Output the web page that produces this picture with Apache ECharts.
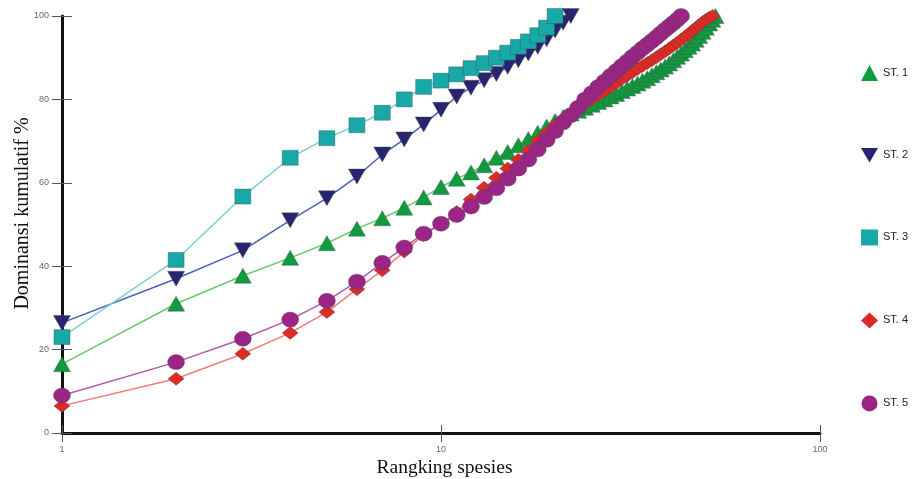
<!DOCTYPE html>
<html>
<head>
<meta charset="utf-8">
<script src="https://cdn.jsdelivr.net/npm/echarts@6/dist/echarts.min.js"></script>
<style>html,body{margin:0;padding:0;background:#fff}#c{width:912px;height:479px}</style>
</head>
<body>
<div id="c"></div>
<script>
const seriesNames = ['ST. 1', 'ST. 2', 'ST. 3', 'ST. 4', 'ST. 5'];
const xTickLabels = ['1', '10', '100'];
const yTickLabels = ['0', '20', '40', '60', '80', '100'];

// cumulative dominance (%) by species rank (rank = index + 1)
const st1 = [16.5, 31, 37.7, 42, 45.5, 49, 51.5, 54, 56.5, 59,
  61, 62.5, 64.2, 66, 67.4, 69, 70.5, 72, 73.5, 74.8,
  75.8, 76.6, 77.3, 78, 78.7, 79.4, 80, 80.7, 81.3, 82,
  82.6, 83.2, 83.8, 84.5, 85.1, 85.8, 86.5, 87.2, 87.9, 88.6,
  89.4, 90.2, 91, 91.8, 92.6, 93.4, 94.3, 95.2, 96.2, 97.2,
  98.2, 99.1, 100];
const st2 = [26.4, 37, 43.8, 51, 56.3, 61.5, 66.8, 70.4, 74, 77.5,
  80.7, 82.8, 84.6, 86.1, 87.8, 89.4, 91, 92.6, 94.4, 96.5,
  98.4, 100];
const st3 = [23, 41.5, 56.7, 66, 70.7, 73.8, 76.8, 80, 83, 84.5,
  86, 87.5, 88.7, 90, 91.2, 92.6, 93.9, 95.4, 97.2, 100];
const st4 = [6.5, 13, 19, 24, 29, 34.5, 39, 43.5, 47.5, 50,
  53, 56, 58.8, 61.2, 63.4, 65.5, 67.7, 70, 72, 73.8,
  75.3, 76.6, 77.8, 79, 80, 81, 82, 83, 84, 84.9,
  85.7, 86.5, 87.3, 88, 88.7, 89.4, 90.1, 90.8, 91.5, 92.2,
  92.9, 93.6, 94.3, 95, 95.7, 96.4, 97.1, 97.8, 98.5, 99.1,
  99.6, 100];
const st5 = [9, 17, 22.6, 27.2, 31.7, 36.3, 40.8, 44.5, 47.8, 50.2,
  52.3, 54.3, 56.6, 58.7, 61, 63.4, 65.6, 68, 70.3, 72.4,
  74.5, 76.2, 78, 80, 81.5, 83, 84.3, 85.6, 86.8, 88,
  89.1, 90.2, 91.2, 92.2, 93.1, 94, 94.9, 95.8, 96.7, 97.5,
  98.3, 99.1, 100];

const allValues = [st1, st2, st3, st4, st5];
const markerColors = ['#0f9b3e', '#28246f', '#17a8a8', '#dd2a25', '#9a2585'];
const lineColors = ['#6cc86a', '#4563b8', '#7fcfd0', '#f07b78', '#b458b0'];
const symbols = ['triangle', 'triangle', 'rect', 'diamond', 'circle'];
const rotations = [0, 180, 0, 0, 0];
const sizes = [[17, 15], [17, 15], [16, 15], [16, 13], [17, 15]];
const legendIcons = ['triangle', 'path://M0,0L20,0L10,17Z', 'rect', 'diamond', 'circle'];

const chart = echarts.init(document.getElementById('c'));
const grid = {left: 62, right: 92, top: 16, bottom: 46, containLabel: false, outerBoundsMode: 'none'};
const labelStyle = {color: '#666', fontSize: 9, fontFamily: 'Liberation Sans, Arial, sans-serif'};

const series = seriesNames.map((name, i) => ({
  name: name,
  type: 'line',
  xAxisIndex: 0, yAxisIndex: 0,
  data: allValues[i].map((v, k) => [k + 1, v]),
  symbol: symbols[i],
  symbolRotate: rotations[i],
  symbolSize: sizes[i],
  showAllSymbol: true,
  lineStyle: {color: lineColors[i], width: 1.5},
  itemStyle: {color: markerColors[i], borderColor: 'rgba(70,70,70,0.55)', borderWidth: 0.7},
  emphasis: {disabled: true},
  animation: false,
  z: 2 + i
}));

chart.setOption({
  backgroundColor: '#fff',
  animation: false,
  grid: grid,
  legend: {
    orient: 'vertical',
    left: 856,
    top: 60,
    itemWidth: 17,
    itemHeight: 16,
    itemGap: 67,
    textStyle: {color: '#222', fontSize: 11, fontFamily: 'Liberation Sans, Arial, sans-serif'},
    itemStyle: {borderWidth: 0},
    data: seriesNames.map((n, i) => ({name: n, icon: legendIcons[i], itemStyle: {color: markerColors[i]}}))
  },
  xAxis: [{
    type: 'log', logBase: 10, min: 1, max: 100,
    name: 'Rangking spesies', nameLocation: 'middle', nameGap: 25, nameMoveOverlap: false,
    nameTextStyle: {fontFamily: 'Liberation Serif, Times New Roman, serif', fontSize: 19.5, color: '#111', padding: [0, 0, 0, 7]},
    axisLine: {show: true, lineStyle: {color: '#111', width: 3}},
    axisTick: {show: true, inside: false, length: 9, lineStyle: {color: '#555', width: 1}},
    minorTick: {show: false},
    axisLabel: Object.assign({margin: 12, formatter: v => xTickLabels[Math.round(Math.log10(v))]}, labelStyle),
    splitLine: {show: false}
  }, {
    type: 'log', logBase: 10, min: 1, max: 100, position: 'bottom',
    axisLine: {show: false},
    axisTick: {show: true, inside: true, length: 8, lineStyle: {color: '#555', width: 1}},
    axisLabel: {show: false}, splitLine: {show: false}
  }],
  yAxis: [{
    type: 'value', min: 0, max: 100, interval: 20,
    name: 'Dominansi kumulatif %', nameLocation: 'middle', nameGap: 29, nameRotate: 90, nameMoveOverlap: false,
    nameTextStyle: {fontFamily: 'Liberation Serif, Times New Roman, serif', fontSize: 20, color: '#111', padding: [0, 0, 0, 22]},
    axisLine: {show: true, lineStyle: {color: '#111', width: 3}},
    axisTick: {show: true, inside: false, length: 10, lineStyle: {color: '#555', width: 1}},
    axisLabel: Object.assign({margin: 13, formatter: v => yTickLabels[Math.round(v / 20)]}, labelStyle),
    splitLine: {show: false}
  }, {
    type: 'value', min: 0, max: 100, interval: 20, position: 'left',
    axisLine: {show: false},
    axisTick: {show: true, inside: true, length: 10, lineStyle: {color: '#555', width: 1}},
    axisLabel: {show: false}, splitLine: {show: false}
  }],
  series: series
});
</script>
</body>
</html>
